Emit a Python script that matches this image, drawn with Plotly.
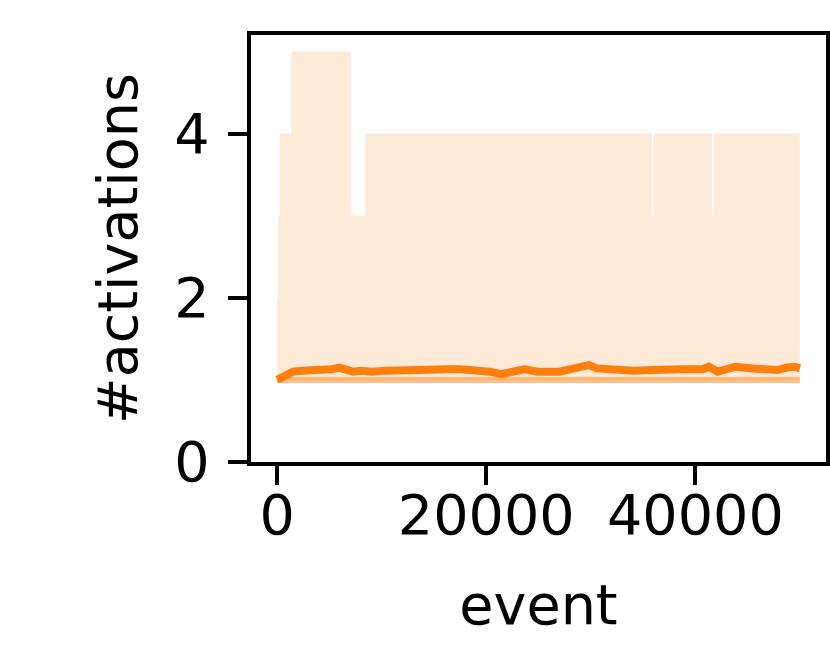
import plotly.graph_objects as go

# ---- data ----
events_mean = [0, 470, 1515, 2370, 3310, 4260, 5210, 5970, 6530, 7200, 8050, 9000,
               10420, 11840, 13730, 15150, 16380, 17520, 18940, 20360, 21400, 22440,
               23670, 24900, 25850, 26990, 28410, 29830, 30590, 31720, 32770, 34090,
               35980, 36930, 38830, 40720, 41290, 42140, 43090, 43840, 45450, 46880,
               47820, 48770, 49530, 50000]
mean_vals = [1.00, 1.04, 1.10, 1.11, 1.11, 1.12, 1.13, 1.15, 1.13, 1.10, 1.11, 1.10,
             1.11, 1.12, 1.12, 1.12, 1.13, 1.13, 1.12, 1.10, 1.07, 1.10,
             1.13, 1.10, 1.09, 1.10, 1.14, 1.18, 1.14, 1.13, 1.12, 1.11,
             1.12, 1.13, 1.13, 1.13, 1.16, 1.10, 1.14, 1.16, 1.14, 1.14,
             1.12, 1.15, 1.16, 1.14]

events_max = [0, 100, 250, 1350, 7040, 8430, 35850, 36000, 41620, 41770, 50000]
max_vals = [2, 3, 4, 5, 3, 4, 3, 4, 3, 4, 4]

events_min = [0, 50000]
min_vals = [1, 1]

events_median = [0, 50000]
median_vals = [1, 1]

x_ticks = [0, 20000, 40000]
y_ticks = [0, 2, 4]

ORANGE = "#ff7f0e"
FONT = "DejaVu Sans"
FS = 55.6

fig = go.Figure()
fig.add_trace(go.Scatter(x=events_min, y=min_vals, mode="lines",
                         line=dict(width=0), showlegend=False, hoverinfo="skip"))
fig.add_trace(go.Scatter(x=events_max, y=max_vals, mode="lines",
                         line=dict(width=0, shape="hv"), fill="tonexty",
                         fillcolor="rgba(255,127,14,0.16)", showlegend=False,
                         hoverinfo="skip"))
fig.add_trace(go.Scatter(x=events_median, y=median_vals, mode="lines",
                         line=dict(width=6, color="rgba(255,127,14,0.5)"),
                         showlegend=False))
fig.add_trace(go.Scatter(x=events_mean, y=mean_vals, mode="lines",
                         line=dict(width=8, color=ORANGE), showlegend=False))

axis_common = dict(showline=True, linecolor="black", linewidth=4.4, mirror=True,
                   ticks="outside", ticklen=19, tickwidth=4.4, tickcolor="black",
                   showgrid=False, zeroline=False, automargin=False,
                   tickfont=dict(family=FONT, size=FS, color="black"))

fig.update_layout(
    template="none",
    width=830, height=664,
    margin=dict(l=251, r=4, t=35, b=202, autoexpand=False),
    paper_bgcolor="white", plot_bgcolor="white",
    font=dict(family=FONT, size=FS, color="black"),
    xaxis=dict(range=[-2500, 52500], tickvals=x_ticks,
               ticktext=[str(v) for v in x_ticks], ticklabelstandoff=-18,
               title=dict(text="event", font=dict(family=FONT, size=FS), standoff=40),
               **axis_common),
    yaxis=dict(range=[0, 5.2], tickvals=y_ticks,
               ticktext=[str(v) for v in y_ticks], ticklabelstandoff=7,
               title=dict(text="#activations", font=dict(family=FONT, size=FS), standoff=20),
               **axis_common),
)

fig.write_html(
    "out.html",
    config={"displayModeBar": False},
    post_script="document.body.style.margin='0';"
                "document.documentElement.style.overflow='hidden';",
)
